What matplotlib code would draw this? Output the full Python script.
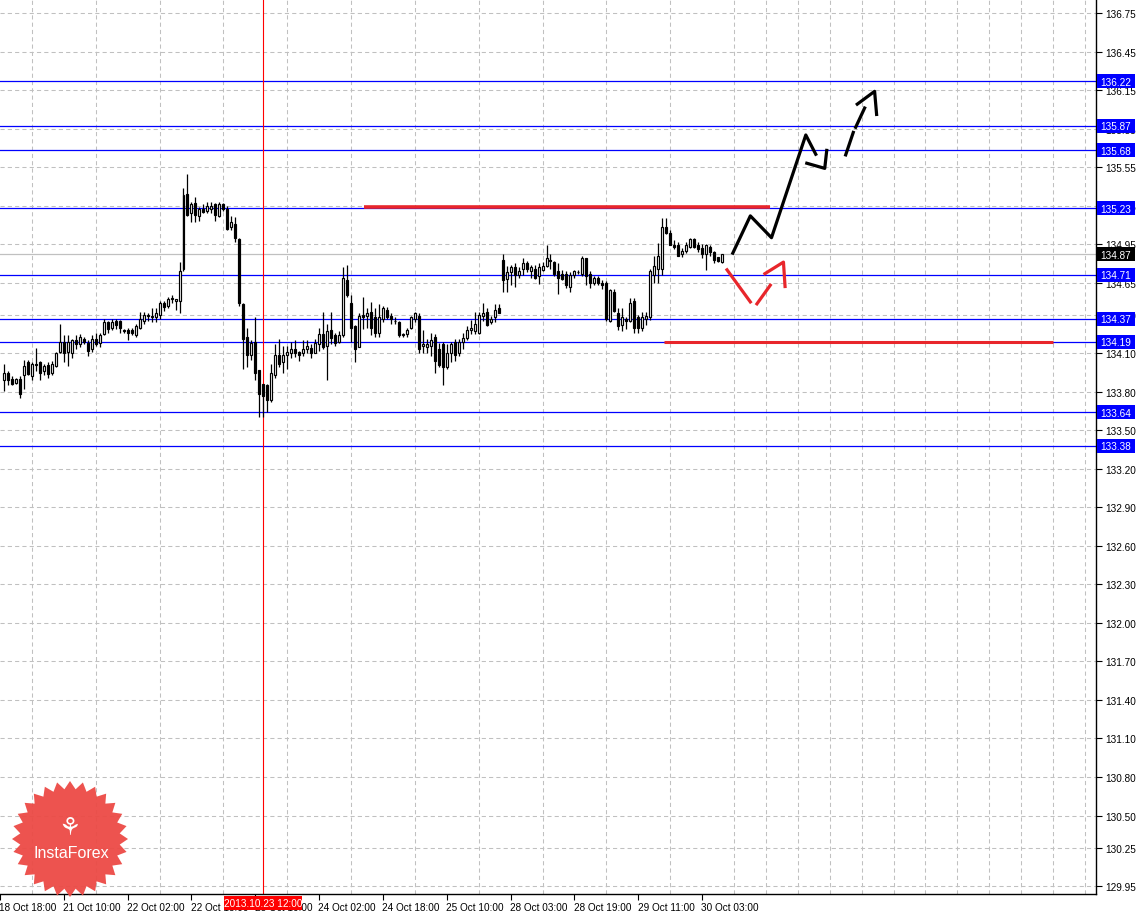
import numpy as np
import matplotlib
matplotlib.use("Agg")
import matplotlib.pyplot as plt
import matplotlib.transforms as mtrans
from matplotlib.patches import Polygon, Rectangle
from matplotlib.transforms import IdentityTransform

# ---------------- data (H1 candles) ----------------
opens = [133.89, 133.95, 133.90, 133.87, 133.90, 133.93, 134.03, 133.92, 134.02, 134.03,
         133.96, 134.01, 133.95, 134.00, 134.11, 134.19, 134.11, 134.10, 134.20, 134.17,
         134.21, 134.18, 134.13, 134.21, 134.18, 134.25, 134.34, 134.30, 134.35, 134.35,
         134.28, 134.28, 134.28, 134.24, 134.30, 134.35, 134.40, 134.38, 134.38, 134.40,
         134.49, 134.47, 134.53, 134.51, 134.51, 134.76, 135.34, 135.19, 135.27, 135.17,
         135.22, 135.21, 135.22, 135.26, 135.17, 135.26, 135.22, 135.08, 135.11, 134.99,
         134.48, 134.23, 134.09, 134.19, 133.97, 133.86, 133.85, 133.74, 133.93, 134.09,
         134.03, 134.09, 134.10, 134.13, 134.11, 134.10, 134.13, 134.14, 134.10, 134.17,
         134.25, 134.16, 134.28, 134.24, 134.19, 134.24, 134.67, 134.49, 134.31, 134.15,
         134.40, 134.39, 134.42, 134.38, 134.26, 134.37, 134.44, 134.39, 134.35, 134.34,
         134.25, 134.25, 134.30, 134.37, 134.39, 134.16, 134.15, 134.16, 134.23, 134.13,
         134.17, 133.99, 134.10, 134.19, 134.10, 134.19, 134.22, 134.28, 134.27, 134.26,
         134.39, 134.42, 134.34, 134.38, 134.45, 134.83, 134.68, 134.73, 134.77, 134.71,
         134.76, 134.80, 134.74, 134.76, 134.70, 134.75, 134.78, 134.83, 134.81, 134.74,
         134.72, 134.72, 134.62, 134.71, 134.73, 134.72, 134.84, 134.72, 134.65, 134.69,
         134.65, 134.65, 134.35, 134.58, 134.41, 134.32, 134.37, 134.35, 134.51, 134.38,
         134.30, 134.37, 134.38, 134.71, 134.76, 134.76, 135.08, 135.04, 134.94, 134.94,
         134.87, 134.90, 134.93, 134.99, 134.94, 134.92, 134.87, 134.93, 134.89, 134.85,
         134.81]
highs = [134.02, 133.96, 133.92, 133.91, 133.92, 134.05, 134.05, 134.03, 134.14, 134.04,
         134.02, 134.03, 134.04, 134.11, 134.33, 134.24, 134.24, 134.21, 134.24, 134.25,
         134.23, 134.20, 134.24, 134.26, 134.26, 134.37, 134.35, 134.37, 134.37, 134.36,
         134.29, 134.30, 134.30, 134.33, 134.42, 134.42, 134.41, 134.45, 134.45, 134.51,
         134.51, 134.54, 134.55, 134.52, 134.81, 135.39, 135.50, 135.28, 135.32, 135.24,
         135.26, 135.28, 135.28, 135.27, 135.28, 135.27, 135.25, 135.17, 135.16, 135.00,
         134.49, 134.30, 134.20, 134.38, 133.97, 133.86, 133.86, 134.02, 134.17, 134.21,
         134.16, 134.16, 134.19, 134.20, 134.12, 134.20, 134.20, 134.17, 134.21, 134.30,
         134.42, 134.33, 134.42, 134.26, 134.27, 134.77, 134.79, 134.55, 134.32, 134.41,
         134.54, 134.45, 134.50, 134.45, 134.48, 134.47, 134.46, 134.41, 134.38, 134.35,
         134.26, 134.30, 134.39, 134.42, 134.41, 134.28, 134.21, 134.26, 134.25, 134.18,
         134.19, 134.17, 134.19, 134.21, 134.21, 134.26, 134.31, 134.36, 134.42, 134.42,
         134.49, 134.45, 134.39, 134.48, 134.48, 134.87, 134.78, 134.79, 134.80, 134.77,
         134.84, 134.82, 134.79, 134.79, 134.80, 134.81, 134.94, 134.87, 134.82, 134.80,
         134.75, 134.74, 134.73, 134.75, 134.75, 134.86, 134.84, 134.74, 134.70, 134.70,
         134.67, 134.66, 134.60, 134.60, 134.45, 134.45, 134.38, 134.53, 134.53, 134.40,
         134.42, 134.42, 134.76, 134.86, 134.96, 135.15, 135.15, 135.06, 134.98, 134.97,
         134.92, 134.97, 135.00, 135.00, 134.97, 134.95, 134.95, 134.94, 134.90, 134.85,
         134.87]
lows = [133.81, 133.85, 133.85, 133.86, 133.75, 133.82, 133.93, 133.89, 133.96, 133.89,
        133.93, 133.91, 133.93, 133.99, 134.10, 134.03, 134.00, 134.06, 134.13, 134.15,
        134.17, 134.08, 134.11, 134.16, 134.15, 134.24, 134.26, 134.28, 134.29, 134.26,
        134.26, 134.20, 134.24, 134.23, 134.29, 134.33, 134.35, 134.34, 134.34, 134.37,
        134.43, 134.45, 134.49, 134.44, 134.41, 134.74, 135.17, 135.12, 135.12, 135.13,
        135.19, 135.19, 135.19, 135.13, 135.16, 135.21, 135.06, 135.06, 134.97, 134.47,
        133.98, 133.99, 134.05, 133.89, 133.60, 133.60, 133.64, 133.72, 133.91, 133.99,
        133.95, 133.98, 134.06, 134.07, 134.04, 134.08, 134.10, 134.06, 134.10, 134.12,
        134.13, 133.89, 134.17, 134.16, 134.18, 134.23, 134.54, 134.19, 134.03, 134.15,
        134.29, 134.30, 134.24, 134.23, 134.23, 134.34, 134.37, 134.33, 134.33, 134.23,
        134.23, 134.23, 134.29, 134.34, 134.10, 134.10, 134.10, 134.08, 133.95, 133.99,
        133.85, 133.98, 134.03, 134.04, 134.08, 134.13, 134.20, 134.25, 134.25, 134.25,
        134.35, 134.31, 134.33, 134.34, 134.41, 134.58, 134.58, 134.63, 134.62, 134.69,
        134.71, 134.73, 134.69, 134.68, 134.64, 134.74, 134.77, 134.76, 134.70, 134.56,
        134.67, 134.61, 134.58, 134.69, 134.72, 134.70, 134.63, 134.61, 134.63, 134.63,
        134.60, 134.35, 134.34, 134.42, 134.28, 134.27, 134.29, 134.34, 134.26, 134.26,
        134.27, 134.32, 134.36, 134.65, 134.65, 134.71, 135.03, 134.94, 134.91, 134.86,
        134.85, 134.88, 134.92, 134.92, 134.89, 134.84, 134.75, 134.86, 134.80, 134.81,
        134.80]
closes = [133.95, 133.89, 133.86, 133.90, 133.78, 134.00, 133.94, 134.02, 134.01, 133.95,
          134.00, 133.94, 134.02, 134.10, 134.19, 134.10, 134.19, 134.20, 134.17, 134.23,
          134.19, 134.12, 134.21, 134.17, 134.24, 134.34, 134.29, 134.34, 134.32, 134.30,
          134.27, 134.26, 134.26, 134.31, 134.37, 134.40, 134.39, 134.39, 134.41, 134.49,
          134.46, 134.52, 134.52, 134.52, 134.74, 135.33, 135.18, 135.26, 135.18, 135.22,
          135.20, 135.25, 135.25, 135.18, 135.26, 135.22, 135.07, 135.12, 135.00, 134.49,
          134.21, 134.09, 134.18, 133.95, 133.78, 133.77, 133.74, 133.95, 134.09, 134.02,
          134.09, 134.11, 134.13, 134.10, 134.09, 134.13, 134.16, 134.10, 134.18, 134.25,
          134.15, 134.27, 134.22, 134.18, 134.24, 134.69, 134.55, 134.30, 134.13, 134.39,
          134.38, 134.41, 134.30, 134.26, 134.38, 134.45, 134.38, 134.37, 134.35, 134.24,
          134.24, 134.28, 134.38, 134.41, 134.13, 134.17, 134.17, 134.20, 134.04, 134.01,
          133.99, 134.10, 134.17, 134.09, 134.19, 134.22, 134.28, 134.30, 134.33, 134.40,
          134.41, 134.32, 134.37, 134.44, 134.41, 134.67, 134.73, 134.77, 134.71, 134.74,
          134.80, 134.76, 134.77, 134.69, 134.77, 134.78, 134.84, 134.82, 134.72, 134.69,
          134.68, 134.63, 134.71, 134.74, 134.73, 134.84, 134.70, 134.65, 134.69, 134.65,
          134.63, 134.37, 134.59, 134.43, 134.31, 134.38, 134.35, 134.49, 134.30, 134.30,
          134.38, 134.39, 134.74, 134.78, 134.86, 135.08, 135.04, 134.94, 134.93, 134.86,
          134.90, 134.94, 134.99, 134.93, 134.91, 134.87, 134.94, 134.89, 134.83, 134.82,
          134.87]

date_labels = ["18 Oct 18:00", "21 Oct 10:00", "22 Oct 02:00", "22 Oct 18:00",
               "23 Oct 10:00", "24 Oct 02:00", "24 Oct 18:00", "25 Oct 10:00",
               "28 Oct 03:00", "28 Oct 19:00", "29 Oct 11:00", "30 Oct 03:00"]
date_ticks = [-1, 15, 31, 47, 63, 79, 95, 111, 127, 143, 159, 175]

price_ticks = [136.75, 136.45, 136.15, 135.85, 135.55, 135.25, 134.95, 134.65, 134.40,
               134.10, 133.80, 133.50, 133.20, 132.90, 132.60, 132.30, 132.00, 131.70,
               131.40, 131.10, 130.80, 130.50, 130.25, 129.95]
level_prices = [136.22, 135.87, 135.68, 135.23, 134.71, 134.37, 134.19, 133.64, 133.38]
current_price = 134.87
cursor_bar = 65
cursor_label = "2013.10.23 12:00"
logo_text = "InstaForex"

# hand-drawn forecast marks (bar index, price)
red_hline_upper = ([90.25, 192.0], 135.24)
red_hline_lower = ([165.5, 263.0], 134.19)
black_path_x = [182.7, 187.1, 192.4, 201.0, 203.5]
black_path_y = [134.88, 135.17, 135.00, 135.80, 135.65]
black_head1_x = [201.25, 205.75, 206.25]
black_head1_y = [135.58, 135.54, 135.68]
black_dash_segs = [([211.0, 212.9], [135.645, 135.82]), ([213.5, 215.75], [135.86, 136.01])]
black_head2_x = [213.9, 218.25, 218.75]
black_head2_y = [136.04, 136.14, 135.96]
red_segs = [([181.25, 187.1], [134.75, 134.50]), ([188.75, 192.1], [134.485, 134.63])]
red_head_x = [190.75, 195.4, 195.8]
red_head_y = [134.72, 134.81, 134.62]

# ---------------- figure ----------------
W, H, DPI = 1139, 912, 100
plt.rcParams['font.family'] = ['Liberation Sans', 'DejaVu Sans']
fig = plt.figure(figsize=(W / DPI, H / DPI), dpi=DPI, facecolor='white')
ax = fig.add_axes([0, 17 / H, 1096 / W, 895 / H])
ax.set_facecolor('white')
ax.set_xlim(-0.25, 273.75)
ax.set_ylim(129.889, 136.859)

for s in ('left', 'top'):
    ax.spines[s].set_visible(False)
for s in ('right', 'bottom'):
    ax.spines[s].set_color('black')
    ax.spines[s].set_linewidth(1.0)

grid_kw = dict(color='#c0c0c0', linewidth=0.75, linestyle=(0, (4, 3)))
ax.yaxis.tick_right()
ax.set_yticks(price_ticks)
ax.set_yticklabels([f"{p:.2f}" for p in price_ticks])
ax.set_xticks(date_ticks)
ax.set_xticklabels(date_labels)
for lab in ax.get_xticklabels():
    lab.set_ha('left')
ax.set_xticks(np.arange(-1, 274, 8), minor=True)
ax.tick_params(axis='y', which='major', direction='out', length=4, width=0.8,
               pad=2.5, labelsize=7.2, colors='black')
ax.tick_params(axis='x', which='major', direction='out', length=4, width=0.8,
               pad=1.5, labelsize=7.2, colors='black')
ax.tick_params(axis='x', which='minor', length=0)
ax.grid(True, axis='y', which='major', **grid_kw)
ax.grid(True, axis='x', which='minor', **grid_kw)
ax.set_axisbelow(True)

offset = mtrans.ScaledTranslation(-0.5 / 72, 0, fig.dpi_scale_trans)
for lab in ax.get_xticklabels():
    lab.set_transform(lab.get_transform() + offset)

# horizontal levels / cursor
for p in level_prices:
    ax.axhline(p, color='#0000ff', linewidth=0.9, zorder=2)
ax.axhline(current_price, color='#c0c0c0', linewidth=0.9, zorder=2)
ax.axvline(cursor_bar, color='red', linewidth=0.8, zorder=2)

# candles
x = np.arange(len(opens))
o = np.array(opens); h = np.array(highs); l = np.array(lows); c = np.array(closes)
ax.vlines(x, l, h, color='black', linewidth=0.9, zorder=3)
bottom = np.minimum(o, c)
height = np.maximum(np.abs(c - o), 0.004)
face = np.where(c >= o, 'white', 'black')
ax.bar(x, height, bottom=bottom, width=0.5, color=face, edgecolor='black',
       linewidth=0.85, zorder=4)

# forecast drawings
red = '#e8262b'
ax.plot(red_hline_upper[0], [red_hline_upper[1]] * 2, color=red, lw=2.6, zorder=5,
        solid_capstyle='butt')
ax.plot(red_hline_lower[0], [red_hline_lower[1]] * 2, color=red, lw=2.2, zorder=5,
        solid_capstyle='butt')
ax.plot(black_path_x, black_path_y, color='black', lw=2.3, zorder=6)
ax.plot(black_head1_x, black_head1_y, color='black', lw=2.3, zorder=6)
for sx, sy in black_dash_segs:
    ax.plot(sx, sy, color='black', lw=2.3, zorder=6)
ax.plot(black_head2_x, black_head2_y, color='black', lw=2.3, zorder=6)
for sx, sy in red_segs:
    ax.plot(sx, sy, color=red, lw=2.3, zorder=6)
ax.plot(red_head_x, red_head_y, color=red, lw=2.3, zorder=6)

# price labels on the right axis (display-pixel boxes)
fig.canvas.draw()
ident = IdentityTransform()
def right_box(price, color):
    yd = ax.transData.transform((0, price))[1]
    fig.add_artist(Rectangle((1097, yd - 7), 38, 14, transform=ident,
                             facecolor=color, edgecolor='none', zorder=10))
    fig.add_artist(plt.Text(1116, yd - 0.5, f"{price:.2f}", transform=ident, color='white',
                            fontsize=7.2, ha='center', va='center', zorder=11))
for p in level_prices:
    right_box(p, '#0000ff')
right_box(current_price, 'black')

# cursor date label at the bottom
xd = ax.transData.transform((cursor_bar, 0))[0]
fig.add_artist(Rectangle((xd - 39, 1), 78, 14, transform=ident,
                         facecolor='#ff0000', edgecolor='none', zorder=10))
fig.add_artist(plt.Text(xd, 8, cursor_label, transform=ident, color='white',
                        fontsize=7.2, ha='center', va='center', zorder=11))

# InstaForex badge (bottom-left)
cx, cy = 70, H - 840
n = 28
ang = np.linspace(0, 2 * np.pi, 2 * n, endpoint=False) + np.pi / 2
rad = np.where(np.arange(2 * n) % 2 == 0, 58, 50)
star = np.column_stack([cx + rad * np.cos(ang), cy + rad * np.sin(ang)])
fig.add_artist(Polygon(star, closed=True, transform=ident, facecolor='#ec4a45',
                       edgecolor='none', alpha=0.95, zorder=12))
fig.add_artist(plt.Text(cx + 1, cy - 14, logo_text, transform=ident, color='white',
                        fontsize=11.5, ha='center', va='center', zorder=13))
fig.add_artist(plt.Text(cx, cy + 12, "\u2698", transform=ident, color='white',
                        fontsize=18, ha='center', va='center', zorder=13,
                        family=['DejaVu Sans']))

fig.savefig('out.png', dpi=DPI, facecolor='white')
